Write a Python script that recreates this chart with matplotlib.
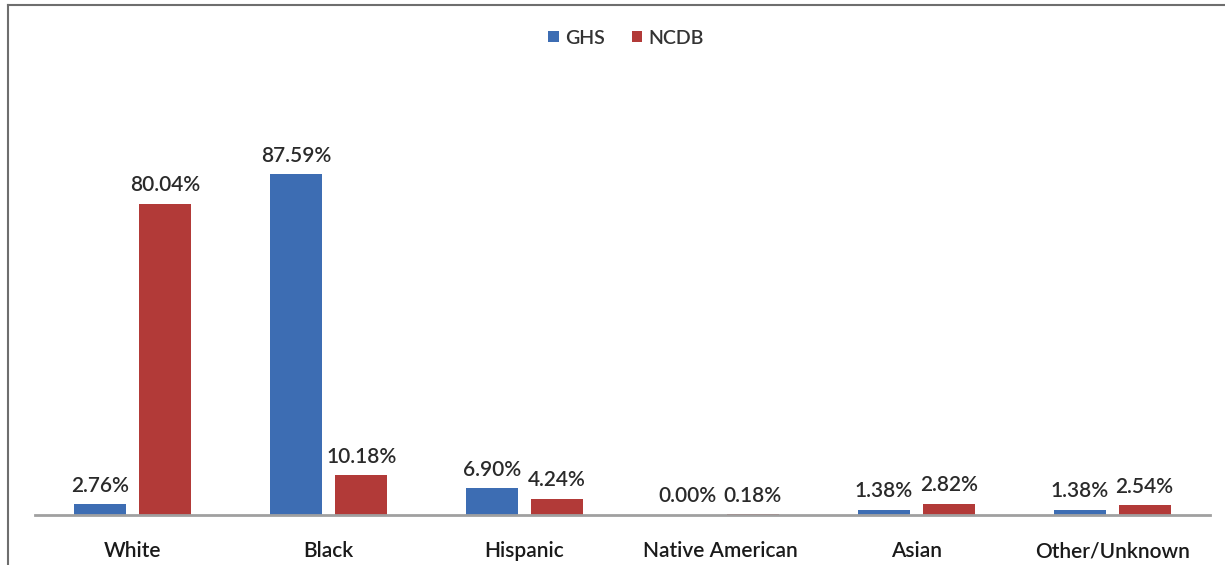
import numpy as np
import matplotlib
matplotlib.use('Agg')
import matplotlib.pyplot as plt
from matplotlib.lines import Line2D

categories = ['White', 'Black', 'Hispanic', 'Native American', 'Asian', 'Other/Unknown']
ghs = [2.76, 87.59, 6.90, 0.00, 1.38, 1.38]
ncdb = [80.04, 10.18, 4.24, 0.18, 2.82, 2.54]

blue = '#3D6DB3'
red = '#B23A38'
plt.rcParams['font.family'] = ['Lato', 'DejaVu Sans']

fig = plt.figure(figsize=(12.25, 5.65), dpi=100)
ax = fig.add_axes([35/1225, 1 - 515/565, 1175/1225, 389/565])

x = np.arange(len(categories))
w = 0.265
off = 0.166
b1 = ax.bar(x - off, ghs, w, color=blue, label='GHS')
b2 = ax.bar(x + off, ncdb, w, color=red, label='NCDB')

for bars, vals in ((b1, ghs), (b2, ncdb)):
    for rect, v in zip(bars, vals):
        ax.text(rect.get_x() + rect.get_width()/2, v + 2.2, f'{v:.2f}%',
                ha='center', va='bottom', fontsize=15, fontweight='semibold',
                color='#2a2a2a')

ax.set_xlim(-0.5, len(categories) - 0.5)
ax.set_ylim(0, 100)
ax.set_yticks([])
ax.set_xticks(x)
ax.set_xticklabels(categories, fontsize=15, fontweight='semibold', color='#1a1a1a')
ax.tick_params(axis='x', length=0, pad=19)
for s in ('top', 'right', 'left'):
    ax.spines[s].set_visible(False)
ax.spines['bottom'].set_color('#a0a0a0')
ax.spines['bottom'].set_linewidth(2)

fig.legend(handles=[b1, b2], loc='center', bbox_to_anchor=(626/1225, 1 - 38/565),
           ncol=2, frameon=False, prop={'size': 14, 'weight': 'semibold'},
           handlelength=0.55, handleheight=0.55, handletextpad=0.3, columnspacing=1.4,
           labelcolor='#333333')

# chart frame (left and top edges)
fig.add_artist(Line2D([8/1225, 8/1225], [0, 1 - 5/565], transform=fig.transFigure,
                      color='#6e6e6e', lw=1.5))
fig.add_artist(Line2D([8/1225, 1], [1 - 5/565, 1 - 5/565], transform=fig.transFigure,
                      color='#6e6e6e', lw=1.5))

fig.savefig('out.png', dpi=100)
